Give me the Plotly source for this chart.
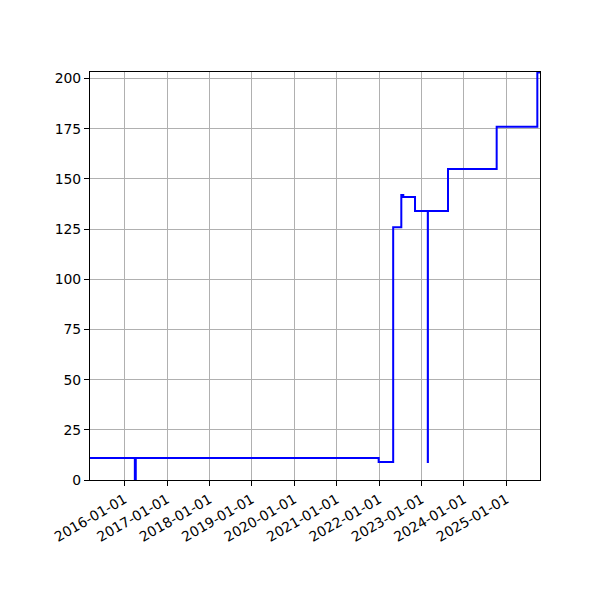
import plotly.graph_objects as go
import pandas as pd

# Step series (value holds until next date)
dates = ['2015-03-10', '2016-03-30', '2016-04-07', '2021-12-28', '2022-05-02',
         '2022-07-11', '2022-07-28', '2022-11-06', '2023-02-24', '2023-02-25',
         '2023-08-17', '2024-10-09', '2025-09-24', '2025-10-17']
values = [11, 0, 11, 9, 126, 142, 141, 134, 9, 134, 155, 176, 203, 203]

y_ticks = [0, 25, 50, 75, 100, 125, 150, 175, 200]
x_ticks = ['2016-01-01', '2017-01-01', '2018-01-01', '2019-01-01', '2020-01-01',
           '2021-01-01', '2022-01-01', '2023-01-01', '2024-01-01', '2025-01-01']

df = pd.DataFrame({'date': pd.to_datetime(dates), 'value': values})

fig = go.Figure(go.Scatter(
    x=df['date'], y=df['value'], mode='lines', line_shape='hv',
    line=dict(color='#0000ff', width=2), showlegend=False,
))

axis_style = dict(
    showline=True, linecolor='black', linewidth=1.1, mirror=True,
    showgrid=True, gridcolor='#b0b0b0', gridwidth=1.1,
    ticks='outside', ticklen=5, tickwidth=1.1, tickcolor='black',
    zeroline=False,
)

fig.update_xaxes(
    range=[df['date'].iloc[0], df['date'].iloc[-1]],
    tickvals=pd.to_datetime(x_ticks), ticktext=x_ticks, tickangle=-30,
    **axis_style,
)
fig.update_yaxes(range=[0, 203.3], tickvals=y_ticks, **axis_style)

# page body adds 8px, so margins are shifted to put the axes box at 90..540 x 72..480
fig.update_layout(
    width=600, height=600,
    margin=dict(l=82, r=68, t=64, b=128),
    plot_bgcolor='white', paper_bgcolor='white',
    font=dict(family='DejaVu Sans', size=13.9, color='black'),
)

fig.write_html('out.html')
